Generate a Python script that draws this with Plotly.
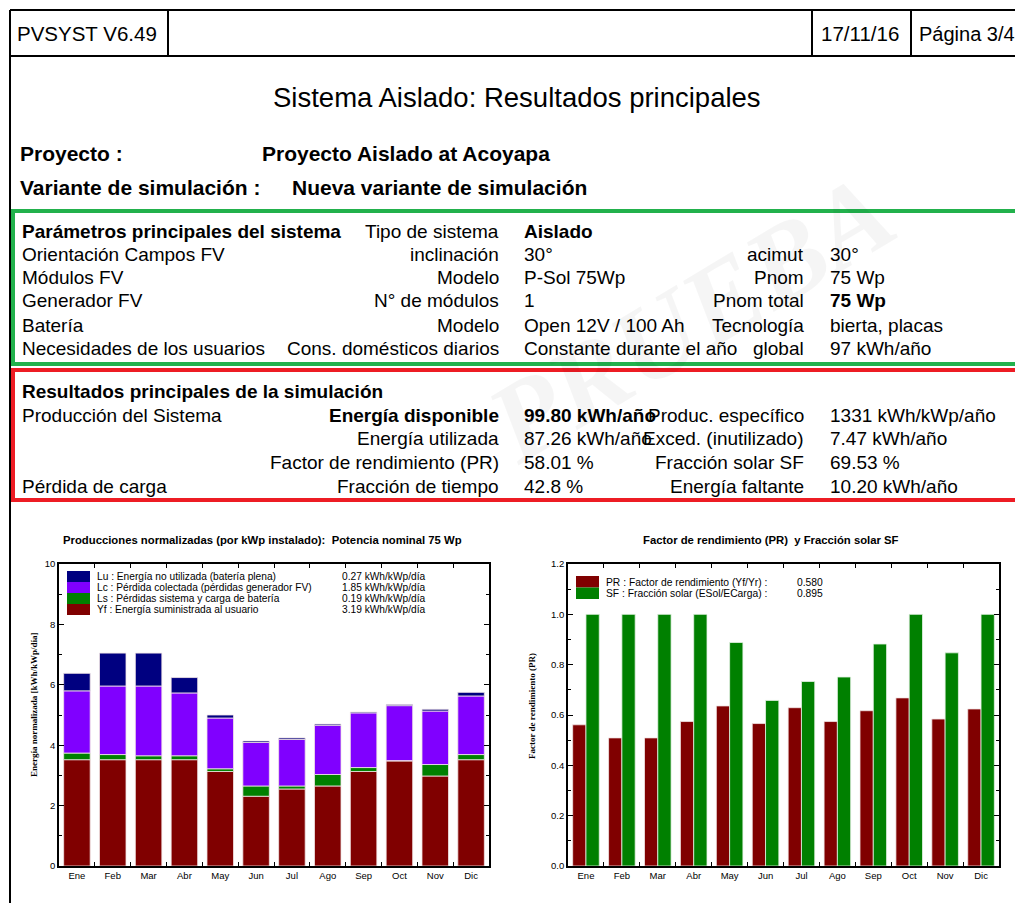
import plotly.graph_objects as go
import numpy as np

# ---------------- data ----------------
months = ["Ene", "Feb", "Mar", "Abr", "May", "Jun", "Jul", "Ago", "Sep", "Oct", "Nov", "Dic"]

# Normalized productions (kWh/kWp/day), stacked from bottom
yf = [3.52, 3.52, 3.52, 3.52, 3.13, 2.31, 2.55, 2.65, 3.13, 3.48, 2.98, 3.52]
ls = [0.22, 0.17, 0.13, 0.13, 0.09, 0.34, 0.10, 0.38, 0.13, 0.01, 0.38, 0.17]
lc = [2.06, 2.27, 2.31, 2.08, 1.68, 1.44, 1.54, 1.63, 1.81, 1.82, 1.77, 1.94]
lu = [0.58, 1.09, 1.09, 0.51, 0.10, 0.05, 0.05, 0.04, 0.03, 0.04, 0.06, 0.12]

# Performance ratio and solar fraction
pr = [0.561, 0.509, 0.509, 0.574, 0.636, 0.566, 0.629, 0.574, 0.617, 0.668, 0.584, 0.624]
sf = [1.000, 1.000, 1.000, 1.000, 0.888, 0.658, 0.733, 0.751, 0.882, 1.000, 0.847, 1.000]

left_legend_labels = [
    "Lu : Energía no utilizada (batería plena)",
    "Lc : Pérdida colectada (pérdidas generador FV)",
    "Ls : Pérdidas sistema y carga de batería",
    "Yf : Energía suministrada al usuario",
]
left_legend_values = ["0.27 kWh/kWp/día", "1.85 kWh/kWp/día", "0.19 kWh/kWp/día", "3.19 kWh/kWp/día"]
right_legend_labels = ["PR : Factor de rendimiento (Yf/Yr) :", "SF : Fracción solar (ESol/ECarga) :"]
right_legend_values = ["0.580", "0.895"]

y1_ticks = [0, 2, 4, 6, 8, 10]
y2_ticks = [0.0, 0.2, 0.4, 0.6, 0.8, 1.0, 1.2]

green_rows = [
    ["Parámetros principales del sistema", "Tipo de sistema", "Aislado", "", ""],
    ["Orientación Campos FV", "inclinación", "30°", "acimut", "30°"],
    ["Módulos FV", "Modelo", "P-Sol 75Wp", "Pnom", "75 Wp"],
    ["Generador FV", "N° de módulos", "1", "Pnom total", "75 Wp"],
    ["Batería", "Modelo", "Open 12V / 100 Ah", "Tecnología", "bierta, placas"],
    ["Necesidades de los usuarios", "Cons. domésticos diarios", "Constante durante el año", "global", "97 kWh/año"],
]
red_rows = [
    ["Resultados principales de la simulación", "", "", "", ""],
    ["Producción del Sistema", "Energía disponible", "99.80 kWh/año", "Produc. específico", "1331 kWh/kWp/año"],
    ["", "Energía utilizada", "87.26 kWh/año", "Exced. (inutilizado)", "7.47 kWh/año"],
    ["", "Factor de rendimiento (PR)", "58.01 %", "Fracción solar SF", "69.53 %"],
    ["Pérdida de carga", "Fracción de tiempo", "42.8 %", "Energía faltante", "10.20 kWh/año"],
]
green_bold = {(0, 0), (0, 2), (3, 4)}
red_bold = {(0, 0), (1, 1), (1, 2)}

# ---------------- layout helpers ----------------
OFF = 0                      # page body margin is removed (see post_script)
W, H = 1015, 903
FONT = "Liberation Sans, Arial, Helvetica, sans-serif"


def px(x):
    return (x - OFF) / W


def py(y):
    return 1 - (y - OFF) / H


annotations = []
shapes = []


def text(x, y, s, size, anchor="left", bold=False, color="black", family=FONT):
    if s == "":
        return
    annotations.append(dict(
        x=px(x), y=py(y), xref="paper", yref="paper", text=f"<b>{s}</b>" if bold else s,
        showarrow=False, xanchor=anchor, yanchor="middle",
        font=dict(size=size, family=family, color=color),
    ))


def line(x0, y0, x1, y1, color="black", width=2):
    shapes.append(dict(type="line", xref="paper", yref="paper",
                       x0=px(x0), y0=py(y0), x1=px(x1), y1=py(y1),
                       line=dict(color=color, width=width)))


def rect(x0, y0, x1, y1, fill=None, color="black", width=2):
    shapes.append(dict(type="rect", xref="paper", yref="paper",
                       x0=px(x0), y0=py(y0), x1=px(x1), y1=py(y1),
                       fillcolor=fill if fill else "rgba(0,0,0,0)",
                       line=dict(color=color, width=width)))


# ---------------- figure ----------------
fig = go.Figure()

colors_left = ["#800000", "#008000", "#8000ff", "#000080"]
stack = [yf, ls, lc, lu]
base = np.zeros(len(months))
for vals, col in zip(stack, colors_left):
    v = np.array(vals)
    fig.add_trace(go.Bar(x=months, y=v, base=base.copy(), offsetgroup="s",
                         marker=dict(color=col, line=dict(color="#f3e6e6", width=0.8)),
                         xaxis="x", yaxis="y", showlegend=False, hoverinfo="skip"))
    base = base + v

fig.add_trace(go.Bar(x=months, y=pr, offsetgroup="pr",
                     marker=dict(color="#800000", line=dict(color="#f3e6e6", width=0.8)),
                     xaxis="x2", yaxis="y2", showlegend=False))
fig.add_trace(go.Bar(x=months, y=sf, offsetgroup="sf",
                     marker=dict(color="#008000", line=dict(color="#e6f3e6", width=0.8)),
                     xaxis="x2", yaxis="y2", showlegend=False))

axbase = dict(showline=True, linecolor="black", linewidth=1.6, mirror="ticks",
              ticks="inside", ticklen=5, tickwidth=1.2, tickcolor="black",
              showgrid=False, zeroline=False, automargin=False,
              tickfont=dict(size=9.5, family=FONT, color="black"))

fig.update_layout(
    width=W, height=H, margin=dict(l=0, r=0, t=0, b=0, pad=0, autoexpand=False),
    paper_bgcolor="white", plot_bgcolor="white",
    barmode="group", bargap=0.26, bargroupgap=0,
    xaxis=dict(axbase, domain=[px(59), px(489)], type="category", tickson="boundaries",
               ticklen=4, anchor="y"),
    yaxis=dict(axbase, domain=[py(866), py(564)], range=[0, 10], tickmode="array",
               tickvals=y1_ticks, ticktext=[str(t) for t in y1_ticks], anchor="x",
               minor=dict(dtick=1, ticks="inside", ticklen=3, tickcolor="black", showgrid=False)),
    xaxis2=dict(axbase, domain=[px(568), px(999)], type="category", tickson="boundaries",
                ticklen=4, anchor="y2"),
    yaxis2=dict(axbase, domain=[py(866), py(564)], range=[0, 1.2], tickmode="array",
                tickvals=y2_ticks, ticktext=[f"{t:.1f}" for t in y2_ticks], anchor="x2",
                minor=dict(dtick=0.1, ticks="inside", ticklen=3, tickcolor="black", showgrid=False)),
)

# watermark
annotations.append(dict(x=px(690), y=py(318), xref="paper", yref="paper", text="<b><i>PRUEBA</i></b>",
                        showarrow=False, textangle=-31, xanchor="center", yanchor="middle",
                        font=dict(size=112, family="Liberation Serif, DejaVu Serif, serif",
                                  color="rgba(0,0,0,0.04)")))

# header table
line(10, 10, 1030, 10)
line(10, 56, 1030, 56)
line(10, 10, 10, 903)
line(168, 10, 168, 56)
line(812, 10, 812, 56)
line(911, 10, 911, 56)
text(15, 34, "PVSYST V6.49", 20.5)
text(819, 34, "17/11/16", 20.5)
text(917, 34, "Página 3/4", 20)

# titles
text(517, 98, "Sistema Aislado: Resultados principales", 27.5, anchor="center")
text(18, 153, "Proyecto :", 21, bold=True)
text(260, 153, "Proyecto Aislado at Acoyapa", 21, bold=True)
text(18, 187, "Variante de simulación :", 21, bold=True)
text(290, 187, "Nueva variante de simulación", 21, bold=True)

# boxes
rect(13, 211, 1040, 364, color="#22b14c", width=4)
rect(13, 370, 1040, 500, color="#ed1c24", width=4)

cols = [(20, "left"), (501, "right"), (522, "left"), (806, "right"), (828, "left")]
for r, (row, yy) in enumerate(zip(green_rows, [232, 255, 278, 301, 325, 348])):
    for c, s in enumerate(row):
        text(cols[c][0], yy, s, 19, anchor=cols[c][1], bold=(r, c) in green_bold)
for r, (row, yy) in enumerate(zip(red_rows, [391, 415, 438, 462, 486])):
    for c, s in enumerate(row):
        text(cols[c][0], yy, s, 19, anchor=cols[c][1], bold=(r, c) in red_bold)

# chart titles
text(262, 540, "Producciones normalizadas (por kWp instalado):  Potencia nominal 75 Wp", 11.3,
     anchor="center", bold=True)
text(771, 540, "Factor de rendimiento (PR)  y Fracción solar SF", 11.3, anchor="center", bold=True)

# y-axis titles
annotations.append(dict(x=px(34), y=py(705), xref="paper", yref="paper", xanchor="center", yanchor="middle",
                        text="<b>Energía normalizada [kWh/kWp/día]</b>", showarrow=False, textangle=-90,
                        font=dict(size=9, family="Liberation Serif, serif", color="black")))
annotations.append(dict(x=px(532), y=py(706), xref="paper", yref="paper", xanchor="center", yanchor="middle",
                        text="<b>Factor de rendimiento (PR)</b>", showarrow=False, textangle=-90,
                        font=dict(size=9, family="Liberation Serif, serif", color="black")))

# left legend
sw_cols = ["#000080", "#8000ff", "#008000", "#800000"]
for i, (lab, val, col) in enumerate(zip(left_legend_labels, left_legend_values, sw_cols)):
    y0 = 571 + i * 11
    rect(67, y0, 90, y0 + 11, fill=col, color=col, width=0)
    text(95, y0 + 5.5, lab, 10.2)
    text(340, y0 + 5.5, val, 10.2)

# right legend
for i, (lab, val, col) in enumerate(zip(right_legend_labels, right_legend_values, ["#800000", "#008000"])):
    y0 = 576 + i * 11.5
    rect(576, y0, 599, y0 + 11.5, fill=col, color=col, width=0)
    text(604, y0 + 6, lab, 10.3)
    text(795, y0 + 6, val, 10.3)

fig.update_layout(annotations=annotations, shapes=shapes)
fig.write_html("out.html", config={"displayModeBar": False},
               post_script="document.body.style.margin = '0px';")
